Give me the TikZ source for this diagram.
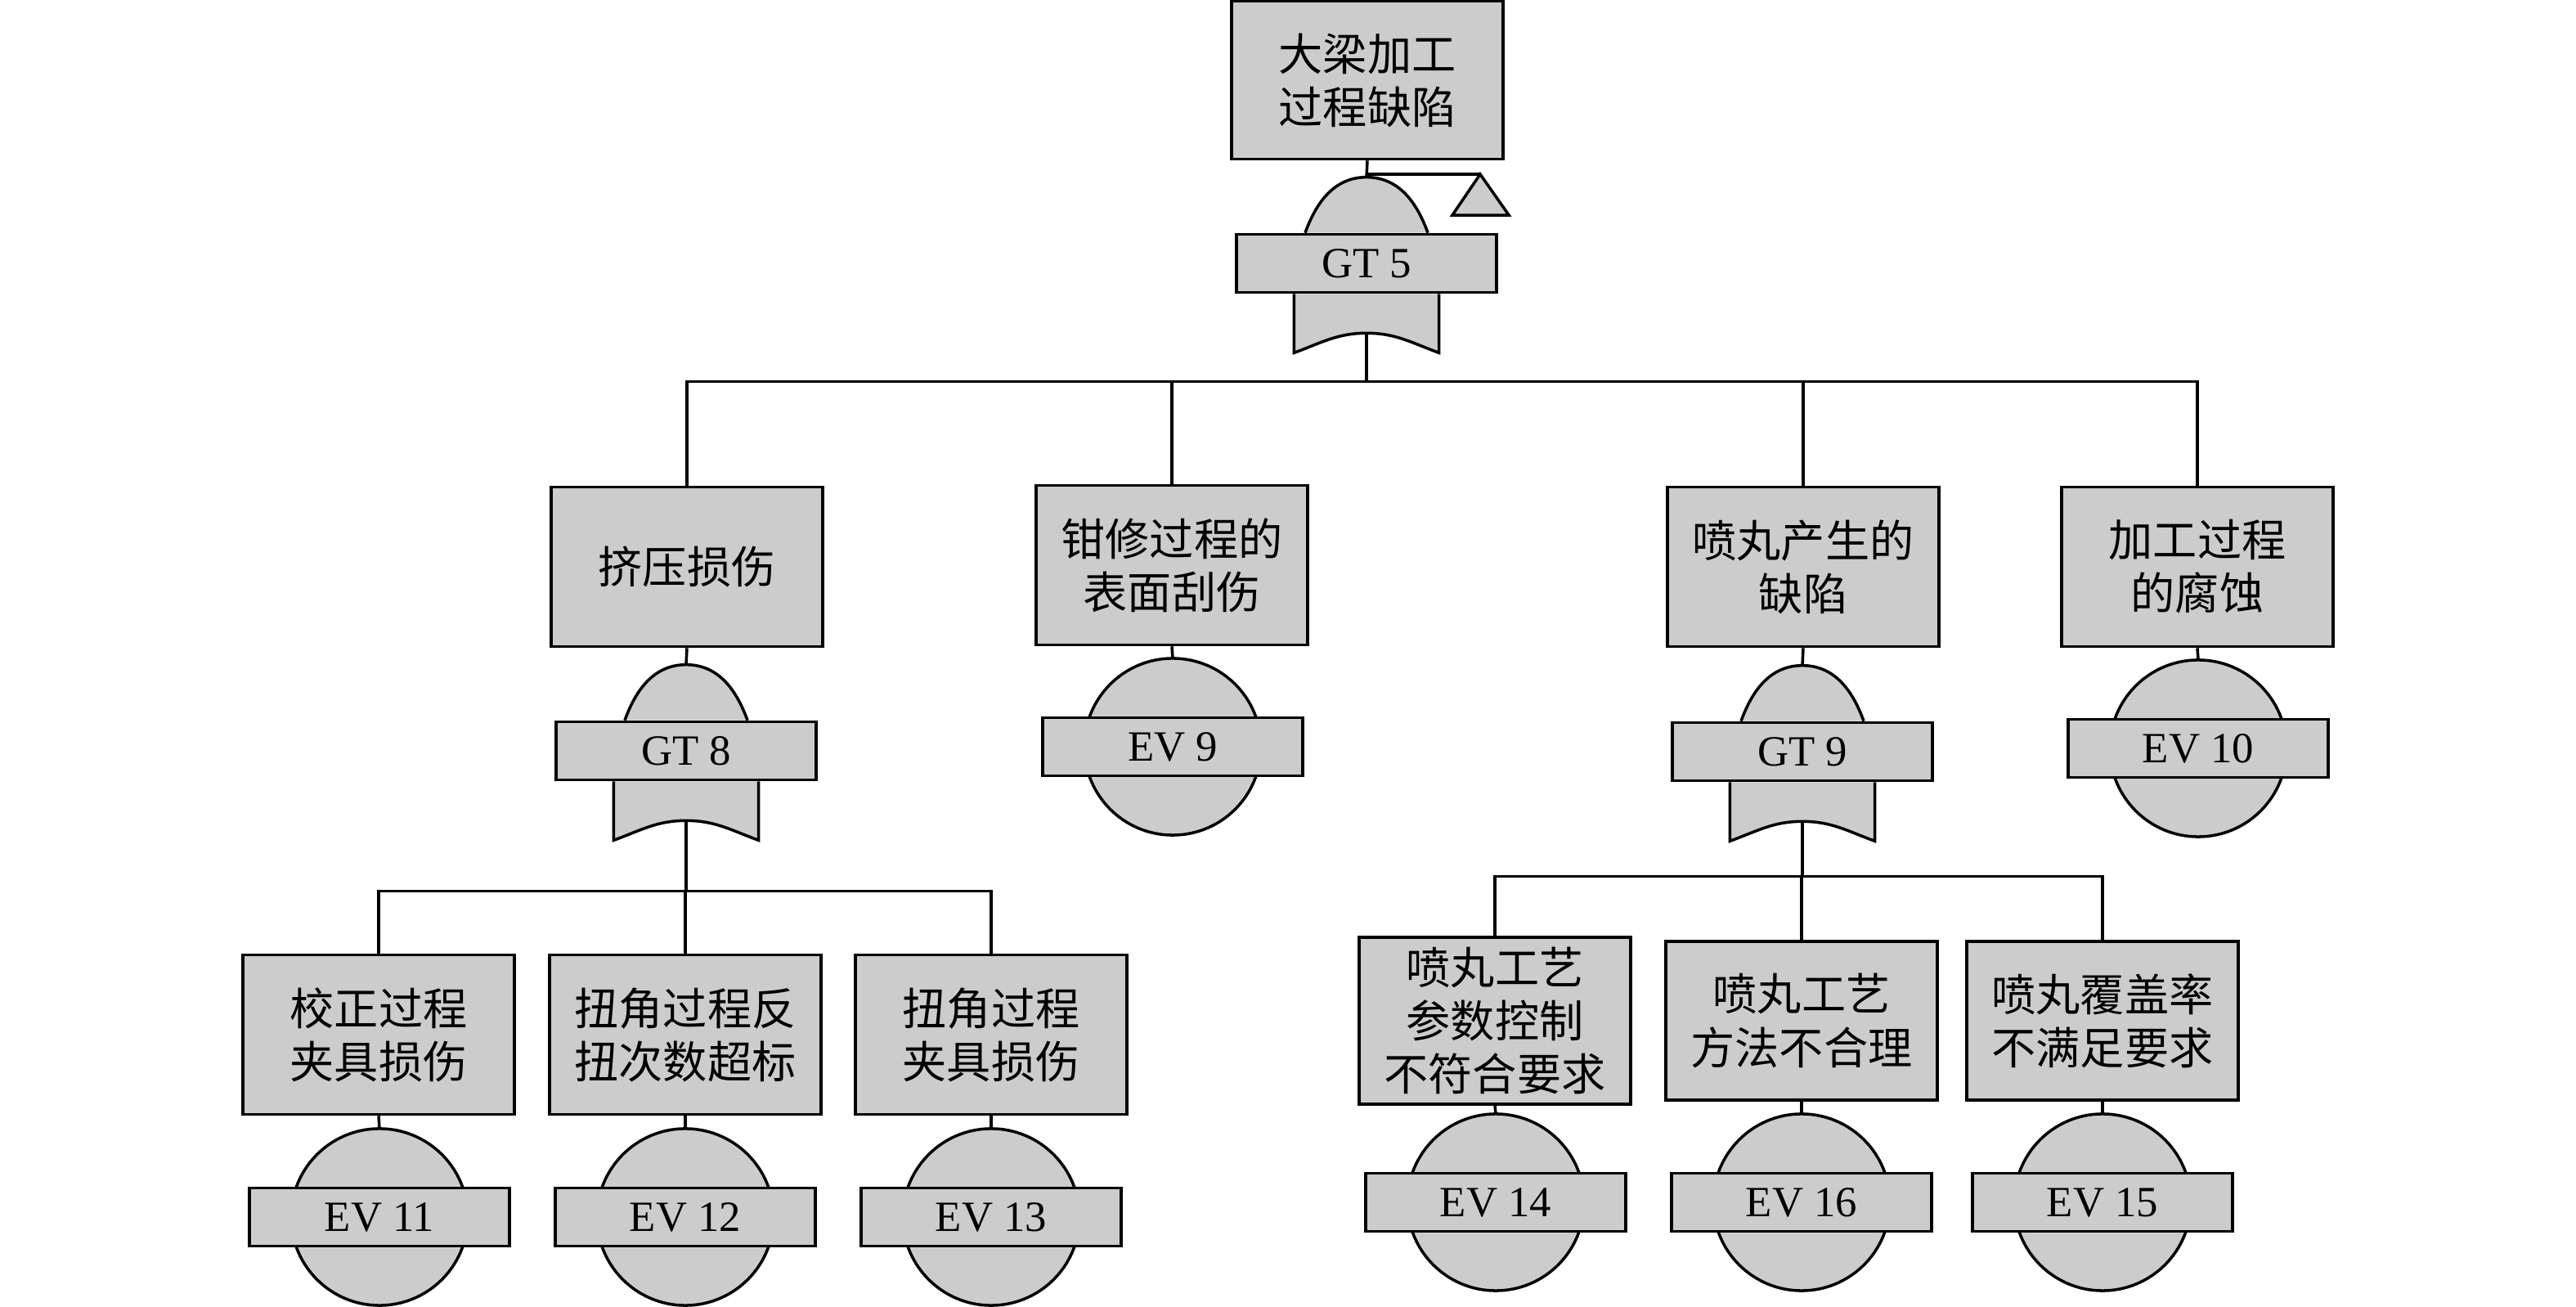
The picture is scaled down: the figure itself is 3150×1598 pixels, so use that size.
\documentclass[tikz,border=0pt]{standalone}
\usepackage{fontspec}
\setmainfont{Liberation Serif}
\newfontfamily\cjk{Noto Sans CJK SC}
\usepackage{tikz}

\definecolor{gatefill}{HTML}{CCCCCC}

% or gate: name, position, label
\newcommand\orgate[3]{%
  \node[lbl] (#1) at (#2) {#3};
  \draw[fill=gatefill] ([xshift=-0.75cm]#1.north) to[out=70,in=180] ++(0.75cm,0.68cm) coordinate (#1-in)
    to[out=0,in=110] ([xshift=0.75cm]#1.north);
  \draw[fill=gatefill] ([xshift=-0.885cm]#1.south) -- ++(0,-0.72cm) to[out=20,in=180] ++(0.885cm,0.24cm) coordinate (#1-out)
    to[out=0,in=160] ([shift={(0.885cm,-0.72cm)}]#1.south) -- ([xshift=0.885cm]#1.south);
}
% basic event: name, position, label
\newcommand\basic[3]{%
  \draw[fill=gatefill] (#2) circle (1.08cm);
  \node[lbl] (#1) at (#2) {#3};
  \coordinate (#1-in) at ([yshift=1.08cm]#1.center);
}

\begin{document}
\begin{tikzpicture}[x=0.01cm, y=-0.01cm, line width=1pt,
  box/.style = {draw, fill=gatefill, minimum width=3.32cm, minimum height=1.95cm, align=center,
    font=\cjk\fontsize{15.4}{18.5}\selectfont},
  lbl/.style = {draw, fill=gatefill, minimum width=3.18cm, minimum height=0.71cm, inner sep=0pt,
    font=\fontsize{15}{18}\selectfont}]
\useasboundingbox (0,0) rectangle (3150,1598);

\node[box, minimum height=1.93cm] (top) at (1672,98) {大梁加工\\过程缺陷};
\orgate{gt5}{1671,322}{GT 5}
\coordinate (tr) at (1810,213);
\draw (top.south) -- (gt5-in);
\draw (top.south |- tr) -- (tr);
\draw[fill=gatefill] (tr) -- ++(-0.34cm,-0.5cm) -- ++(0.69cm,0) -- cycle;

\node[box] (ya) at (840,693) {挤压损伤};
\node[box] (qx) at (1433,691) {钳修过程的\\表面刮伤};
\node[box] (pw) at (2205,693) {喷丸产生的\\缺陷};
\node[box] (fs) at (2687,693) {加工过程\\的腐蚀};

\draw (gt5-out) -- ++(0,-0.59cm) coordinate (b5);
\draw (ya.north) |- (b5) -| (fs.north);
\draw (qx.north) -- (qx.north |- b5);
\draw (pw.north) -- (pw.north |- b5);

\orgate{gt8}{839,918}{GT 8}
\basic{ev9}{1434,913}{EV 9}
\orgate{gt9}{2204,919}{GT 9}
\basic{ev10}{2688,915}{EV 10}
\draw (ya.south) -- (gt8-in);
\draw (qx.south) -- (ev9-in);
\draw (pw.south) -- (gt9-in);
\draw (fs.south) -- (ev10-in);

\node[box] (jz) at (463,1265) {校正过程\\夹具损伤};
\node[box] (nf) at (838,1265) {扭角过程反\\扭次数超标};
\node[box] (nj) at (1212,1265) {扭角过程\\夹具损伤};
\draw (gt8-out) -- ++(0,-0.86cm) coordinate (b8);
\draw (jz.north) |- (b8) -| (nj.north);
\draw (nf.north) -- (nf.north |- b8);

\node[box, minimum height=1.94cm] (cs) at (1828,1248) {喷丸工艺\\参数控制\\不符合要求};
\node[box, minimum height=1.94cm] (ff) at (2203,1248) {喷丸工艺\\方法不合理};
\node[box, minimum height=1.94cm] (fg) at (2571,1248) {喷丸覆盖率\\不满足要求};
\draw (gt9-out) -- ++(0,-0.67cm) coordinate (b9);
\draw (cs.north) |- (b9) -| (fg.north);
\draw (ff.north) -- (ff.north |- b9);

\basic{ev11}{464,1488}{EV 11}
\basic{ev12}{838,1488}{EV 12}
\basic{ev13}{1212,1488}{EV 13}
\basic{ev14}{1829,1470}{EV 14}
\basic{ev16}{2203,1470}{EV 16}
\basic{ev15}{2571,1470}{EV 15}
\draw (jz.south) -- (ev11-in);
\draw (nf.south) -- (ev12-in);
\draw (nj.south) -- (ev13-in);
\draw (cs.south) -- (ev14-in);
\draw (ff.south) -- (ev16-in);
\draw (fg.south) -- (ev15-in);
\end{tikzpicture}
\end{document}
